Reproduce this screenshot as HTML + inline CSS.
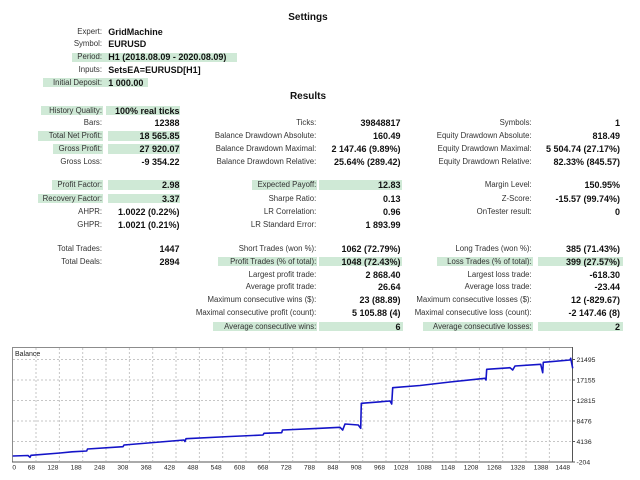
<!DOCTYPE html>
<html><head><meta charset="utf-8">
<style>
html,body{margin:0;padding:0;background:#fff;}
#w{position:relative;width:640px;height:480px;overflow:hidden;background:#fff;font-family:"Liberation Sans",Arial,sans-serif;}
.t{position:absolute;white-space:nowrap;line-height:10px;height:10px;}
.lb{font-size:7.8px;color:#333;text-align:right;}
.vb{font-size:9px;font-weight:bold;color:#111;}
.r{text-align:right;}
.hl{position:absolute;background:#cfe9d6;height:9.6px;}
.h{position:absolute;font-size:10px;font-weight:bold;color:#111;text-align:center;width:100px;left:258px;line-height:10px;}
.l1{left:0;width:102px;}
.v1{left:100px;width:79.5px;text-align:right;}
.l2{left:150px;width:166.3px;}
.v2{left:300px;width:100.5px;text-align:right;}
.l3{left:400px;width:131.7px;}
.v3{left:520px;width:100px;text-align:right;}
.sv{left:108.3px;}
</style></head><body><div id="w">

<div class="h" style="top:12.7px">Settings</div>

<div class="hl" style="left:71.7px;width:165px;top:52.5px"></div>
<div class="hl" style="left:42.7px;width:105px;top:77.9px"></div>

<div class="t lb l1" style="top:26.7px">Expert:</div><div class="t vb sv" style="top:26.7px">GridMachine</div>
<div class="t lb l1" style="top:39.3px">Symbol:</div><div class="t vb sv" style="top:39.3px">EURUSD</div>
<div class="t lb l1" style="top:52.3px">Period:</div><div class="t vb sv" style="top:52.3px">H1 (2018.08.09 - 2020.08.09)</div>
<div class="t lb l1" style="top:65.3px">Inputs:</div><div class="t vb sv" style="top:65.3px">SetsEA=EURUSD[H1]</div>
<div class="t lb l1" style="top:77.7px">Initial Deposit:</div><div class="t vb sv" style="top:77.7px">1 000.00</div>

<div class="h" style="top:91.7px">Results</div>

<!-- highlights -->
<div class="hl" style="left:40.7px;width:62.8px;top:105.9px"></div><div class="hl" style="left:106px;width:74px;top:105.9px"></div>
<div class="hl" style="left:38.3px;width:65.2px;top:131.2px"></div><div class="hl" style="left:108px;width:72px;top:131.2px"></div>
<div class="hl" style="left:53.3px;width:50.2px;top:144.2px"></div><div class="hl" style="left:108px;width:72px;top:144.2px"></div>
<div class="hl" style="left:51.7px;width:51.8px;top:180.2px"></div><div class="hl" style="left:108px;width:72px;top:180.2px"></div>
<div class="hl" style="left:38.3px;width:65.2px;top:193.7px"></div><div class="hl" style="left:108px;width:72px;top:193.7px"></div>
<div class="hl" style="left:251.7px;width:65.3px;top:180.2px"></div><div class="hl" style="left:319px;width:83px;top:180.2px"></div>
<div class="hl" style="left:218.3px;width:98.7px;top:256.9px"></div><div class="hl" style="left:319px;width:83px;top:256.9px"></div>
<div class="hl" style="left:213.3px;width:104px;top:321.7px"></div><div class="hl" style="left:319px;width:84px;top:321.7px"></div>
<div class="hl" style="left:436.7px;width:96.6px;top:256.9px"></div><div class="hl" style="left:538px;width:85px;top:256.9px"></div>
<div class="hl" style="left:423.3px;width:110px;top:321.7px"></div><div class="hl" style="left:538px;width:85px;top:321.7px"></div>

<!-- R0 -->
<div class="t lb l1" style="top:105.7px">History Quality:</div><div class="t vb v1" style="top:105.7px">100% real ticks</div>
<!-- R1 -->
<div class="t lb l1" style="top:118.3px">Bars:</div><div class="t vb v1" style="top:118.3px">12388</div>
<div class="t lb l2" style="top:118.3px">Ticks:</div><div class="t vb v2" style="top:118.3px">39848817</div>
<div class="t lb l3" style="top:118.3px">Symbols:</div><div class="t vb v3" style="top:118.3px">1</div>
<!-- R2 -->
<div class="t lb l1" style="top:131px">Total Net Profit:</div><div class="t vb v1" style="top:131px">18 565.85</div>
<div class="t lb l2" style="top:131px">Balance Drawdown Absolute:</div><div class="t vb v2" style="top:131px">160.49</div>
<div class="t lb l3" style="top:131px">Equity Drawdown Absolute:</div><div class="t vb v3" style="top:131px">818.49</div>
<!-- R3 -->
<div class="t lb l1" style="top:144px">Gross Profit:</div><div class="t vb v1" style="top:144px">27 920.07</div>
<div class="t lb l2" style="top:144px">Balance Drawdown Maximal:</div><div class="t vb v2" style="top:144px">2 147.46 (9.89%)</div>
<div class="t lb l3" style="top:144px">Equity Drawdown Maximal:</div><div class="t vb v3" style="top:144px">5 504.74 (27.17%)</div>
<!-- R4 -->
<div class="t lb l1" style="top:157px">Gross Loss:</div><div class="t vb v1" style="top:157px">-9 354.22</div>
<div class="t lb l2" style="top:157px">Balance Drawdown Relative:</div><div class="t vb v2" style="top:157px">25.64% (289.42)</div>
<div class="t lb l3" style="top:157px">Equity Drawdown Relative:</div><div class="t vb v3" style="top:157px">82.33% (845.57)</div>
<!-- R5 -->
<div class="t lb l1" style="top:180px">Profit Factor:</div><div class="t vb v1" style="top:180px">2.98</div>
<div class="t lb l2" style="top:180px">Expected Payoff:</div><div class="t vb v2" style="top:180px">12.83</div>
<div class="t lb l3" style="top:180px">Margin Level:</div><div class="t vb v3" style="top:180px">150.95%</div>
<!-- R6 -->
<div class="t lb l1" style="top:193.5px">Recovery Factor:</div><div class="t vb v1" style="top:193.5px">3.37</div>
<div class="t lb l2" style="top:193.5px">Sharpe Ratio:</div><div class="t vb v2" style="top:193.5px">0.13</div>
<div class="t lb l3" style="top:193.5px">Z-Score:</div><div class="t vb v3" style="top:193.5px">-15.57 (99.74%)</div>
<!-- R7 -->
<div class="t lb l1" style="top:206.7px">AHPR:</div><div class="t vb v1" style="top:206.7px">1.0022 (0.22%)</div>
<div class="t lb l2" style="top:206.7px">LR Correlation:</div><div class="t vb v2" style="top:206.7px">0.96</div>
<div class="t lb l3" style="top:206.7px">OnTester result:</div><div class="t vb v3" style="top:206.7px">0</div>
<!-- R8 -->
<div class="t lb l1" style="top:220px">GHPR:</div><div class="t vb v1" style="top:220px">1.0021 (0.21%)</div>
<div class="t lb l2" style="top:220px">LR Standard Error:</div><div class="t vb v2" style="top:220px">1 893.99</div>
<!-- R9 -->
<div class="t lb l1" style="top:243.5px">Total Trades:</div><div class="t vb v1" style="top:243.5px">1447</div>
<div class="t lb l2" style="top:243.5px">Short Trades (won %):</div><div class="t vb v2" style="top:243.5px">1062 (72.79%)</div>
<div class="t lb l3" style="top:243.5px">Long Trades (won %):</div><div class="t vb v3" style="top:243.5px">385 (71.43%)</div>
<!-- R10 -->
<div class="t lb l1" style="top:256.7px">Total Deals:</div><div class="t vb v1" style="top:256.7px">2894</div>
<div class="t lb l2" style="top:256.7px">Profit Trades (% of total):</div><div class="t vb v2" style="top:256.7px">1048 (72.43%)</div>
<div class="t lb l3" style="top:256.7px">Loss Trades (% of total):</div><div class="t vb v3" style="top:256.7px">399 (27.57%)</div>
<!-- R11 -->
<div class="t lb l2" style="top:269.5px">Largest profit trade:</div><div class="t vb v2" style="top:269.5px">2 868.40</div>
<div class="t lb l3" style="top:269.5px">Largest loss trade:</div><div class="t vb v3" style="top:269.5px">-618.30</div>
<!-- R12 -->
<div class="t lb l2" style="top:282.3px">Average profit trade:</div><div class="t vb v2" style="top:282.3px">26.64</div>
<div class="t lb l3" style="top:282.3px">Average loss trade:</div><div class="t vb v3" style="top:282.3px">-23.44</div>
<!-- R13 -->
<div class="t lb l2" style="top:295.3px">Maximum consecutive wins ($):</div><div class="t vb v2" style="top:295.3px">23 (88.89)</div>
<div class="t lb l3" style="top:295.3px">Maximum consecutive losses ($):</div><div class="t vb v3" style="top:295.3px">12 (-829.67)</div>
<!-- R14 -->
<div class="t lb l2" style="top:308.3px">Maximal consecutive profit (count):</div><div class="t vb v2" style="top:308.3px">5 105.88 (4)</div>
<div class="t lb l3" style="top:308.3px">Maximal consecutive loss (count):</div><div class="t vb v3" style="top:308.3px">-2 147.46 (8)</div>
<!-- R15 -->
<div class="t lb l2" style="top:321.5px">Average consecutive wins:</div><div class="t vb v2" style="top:321.5px">6</div>
<div class="t lb l3" style="top:321.5px">Average consecutive losses:</div><div class="t vb v3" style="top:321.5px">2</div>

<svg width="640" height="480" viewBox="0 0 640 480" style="position:absolute;left:0;top:0" font-family="Liberation Sans, Arial, sans-serif">
  <rect x="12.5" y="347.5" width="560" height="114.5" fill="#fff" stroke="#8c8c8c" stroke-width="1"/>
  <g stroke="#c6c6c6" stroke-width="1" stroke-dasharray="2 2">
    <line x1="13" y1="359.5" x2="572" y2="359.5"/>
    <line x1="13" y1="380" x2="572" y2="380"/>
    <line x1="13" y1="400.5" x2="572" y2="400.5"/>
    <line x1="13" y1="421" x2="572" y2="421"/>
    <line x1="13" y1="441.5" x2="572" y2="441.5"/>
    <line x1="36" y1="348" x2="36" y2="461"/>
    <line x1="59.4" y1="348" x2="59.4" y2="461"/>
    <line x1="82.7" y1="348" x2="82.7" y2="461"/>
    <line x1="106" y1="348" x2="106" y2="461"/>
    <line x1="129.4" y1="348" x2="129.4" y2="461"/>
    <line x1="152.7" y1="348" x2="152.7" y2="461"/>
    <line x1="176" y1="348" x2="176" y2="461"/>
    <line x1="199.4" y1="348" x2="199.4" y2="461"/>
    <line x1="222.7" y1="348" x2="222.7" y2="461"/>
    <line x1="246" y1="348" x2="246" y2="461"/>
    <line x1="269.4" y1="348" x2="269.4" y2="461"/>
    <line x1="292.7" y1="348" x2="292.7" y2="461"/>
    <line x1="316" y1="348" x2="316" y2="461"/>
    <line x1="339.4" y1="348" x2="339.4" y2="461"/>
    <line x1="362.7" y1="348" x2="362.7" y2="461"/>
    <line x1="386" y1="348" x2="386" y2="461"/>
    <line x1="409.4" y1="348" x2="409.4" y2="461"/>
    <line x1="432.7" y1="348" x2="432.7" y2="461"/>
    <line x1="456" y1="348" x2="456" y2="461"/>
    <line x1="479.4" y1="348" x2="479.4" y2="461"/>
    <line x1="502.7" y1="348" x2="502.7" y2="461"/>
    <line x1="526" y1="348" x2="526" y2="461"/>
    <line x1="549.4" y1="348" x2="549.4" y2="461"/>
  </g>
  <g stroke="#555" stroke-width="1">
    <line x1="12" y1="462" x2="573" y2="462"/>
    <line x1="572.5" y1="347" x2="572.5" y2="462.5"/>
    <line x1="572.5" y1="359.5" x2="575" y2="359.5"/>
    <line x1="572.5" y1="380" x2="575" y2="380"/>
    <line x1="572.5" y1="400.5" x2="575" y2="400.5"/>
    <line x1="572.5" y1="421" x2="575" y2="421"/>
    <line x1="572.5" y1="441.5" x2="575" y2="441.5"/>
    <line x1="572.5" y1="462" x2="575" y2="462"/>
  </g>
  <text x="15" y="355.8" font-size="7" fill="#222">Balance</text>
  <g font-size="6.8" fill="#222">
    <text x="576.5" y="362">21495</text>
    <text x="576.5" y="382.5">17155</text>
    <text x="576.5" y="403">12815</text>
    <text x="576.5" y="423.5">8476</text>
    <text x="576.5" y="444">4136</text>
    <text x="576.5" y="464.5">-204</text>
  </g>
  <g font-size="6.6" fill="#222" text-anchor="end">
    <text x="16" y="469.7">0</text>
    <text x="35" y="469.7">68</text>
    <text x="58.4" y="469.7">128</text>
    <text x="81.7" y="469.7">188</text>
    <text x="105" y="469.7">248</text>
    <text x="128.4" y="469.7">308</text>
    <text x="151.7" y="469.7">368</text>
    <text x="175" y="469.7">428</text>
    <text x="198.4" y="469.7">488</text>
    <text x="221.7" y="469.7">548</text>
    <text x="245" y="469.7">608</text>
    <text x="268.4" y="469.7">668</text>
    <text x="291.7" y="469.7">728</text>
    <text x="315" y="469.7">788</text>
    <text x="338.4" y="469.7">848</text>
    <text x="361.7" y="469.7">908</text>
    <text x="385" y="469.7">968</text>
    <text x="408.4" y="469.7">1028</text>
    <text x="431.7" y="469.7">1088</text>
    <text x="455" y="469.7">1148</text>
    <text x="478.4" y="469.7">1208</text>
    <text x="501.7" y="469.7">1268</text>
    <text x="525" y="469.7">1328</text>
    <text x="548.4" y="469.7">1388</text>
    <text x="570" y="469.7">1448</text>
  </g>
  <polyline fill="none" stroke="#1414c8" stroke-width="1.6" stroke-linejoin="round"
    points="12.7,456 28,455.5 30,457.3 31,455.3 60,453 72,451.8 86.7,451 87.5,449 123,446.7 124,445 184,440 185,441.5 186,438.7 230,436.5 263,435 264,433.3 281.7,432.7 282.5,430 320,428.3 340,427.3 342.7,430 345,424 358.3,425 360.7,428.3 361.3,403.3 390,401 391.7,404 392.7,387.7 420,385.5 450,382 485,378.3 486,380 486.7,369.3 510,367.7 512.7,370 515,366 540.7,364.3 542.7,372.7 543.3,362.3 570,360 570.7,358.3 572.7,368.3"/>
</svg>
</div></body></html>
